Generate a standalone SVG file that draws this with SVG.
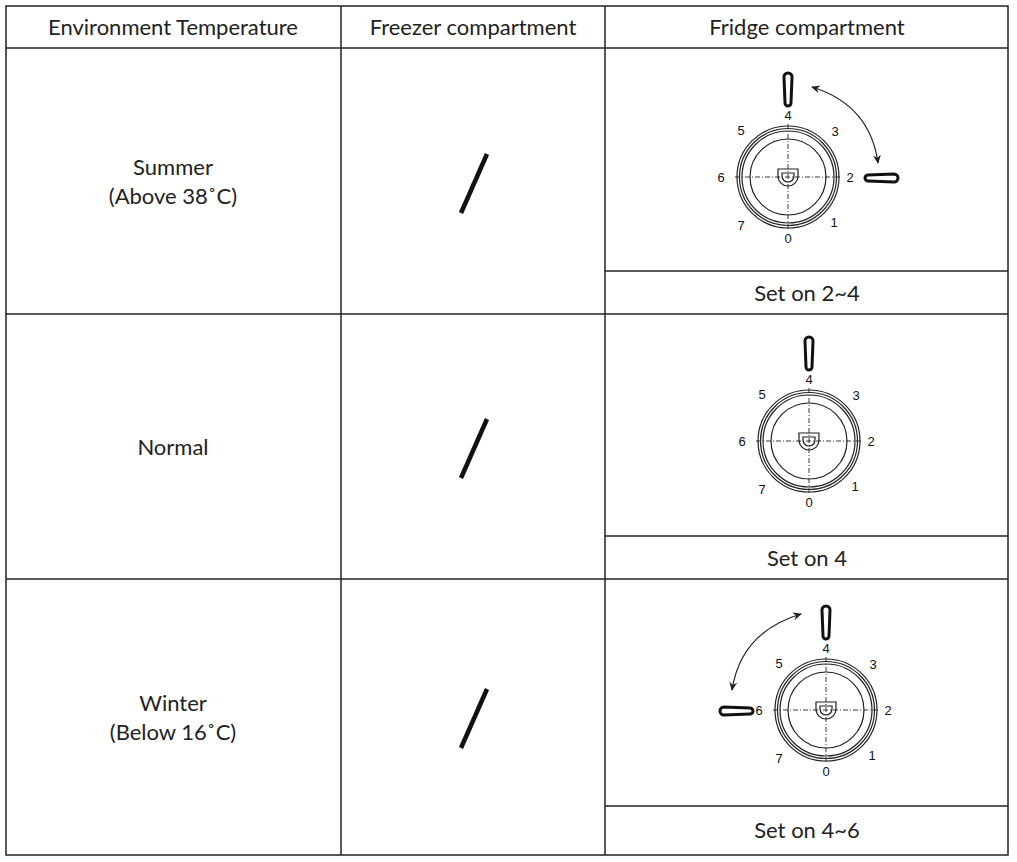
<svg xmlns="http://www.w3.org/2000/svg" width="1017" height="862" viewBox="0 0 1017 862">
<style>
.g{stroke:#222;stroke-width:1.5;fill:none}
.t{font-family:"Lato","Liberation Sans",sans-serif;font-size:22px;fill:#222;text-anchor:middle}
.n{font-family:"Liberation Sans",sans-serif;font-size:13px;fill:#111;text-anchor:middle}
.r{stroke:#222;stroke-width:1.2;fill:none}
.d{stroke:#222;stroke-width:0.9;stroke-dasharray:5 2 1 2;fill:none}
.k{fill:#fff;stroke:#111;stroke-width:3}
.s{stroke:#111;stroke-width:4.5}
.a{stroke:#222;stroke-width:1.2;fill:none}
</style>
<defs>
<marker id="ah" markerWidth="10" markerHeight="10" refX="8" refY="5" orient="auto-start-reverse" markerUnits="userSpaceOnUse"><path d="M0,1 L9,5 L0,9 L3,5Z" fill="#222"/></marker>
<g id="dial">
<circle class="r" r="51"/><circle class="r" r="48.5"/><circle class="r" r="46"/><circle class="r" r="38"/>
<line class="d" x1="-53" y1="0" x2="53" y2="0"/><line class="d" x1="0" y1="-53" x2="0" y2="53"/>
<path class="r" d="M-10,-8 L10,-8 L10,-1 A10,10 0 0 1 -10,-1 Z M-6,-4 L6,-4 L6,-1 A6,6 0 0 1 -6,-1 Z"/>
<text class="n" x="0" y="-57">4</text><text class="n" x="-47" y="-42">5</text><text class="n" x="47" y="-41">3</text>
<text class="n" x="-67" y="5">6</text><text class="n" x="62" y="5">2</text>
<text class="n" x="-47" y="53">7</text><text class="n" x="0" y="66">0</text><text class="n" x="46" y="50">1</text>
</g>
<path id="kv" class="k" d="M-4,-27 A4,4 0 0 1 4,-27 L3,-1 A3,3 0 0 1 -3,-1 Z"/>
</defs>
<g id="table">
<rect class="g" x="6" y="6" width="1002" height="849"/>
<line class="g" x1="6" y1="48" x2="1008" y2="48"/>
<line class="g" x1="6" y1="314" x2="1008" y2="314"/>
<line class="g" x1="6" y1="579" x2="1008" y2="579"/>
<line class="g" x1="341" y1="6" x2="341" y2="855"/>
<line class="g" x1="605" y1="6" x2="605" y2="855"/>
<line class="g" x1="605" y1="271" x2="1008" y2="271"/>
<line class="g" x1="605" y1="536" x2="1008" y2="536"/>
<line class="g" x1="605" y1="806" x2="1008" y2="806"/>
</g>
<g id="header">
<text class="t" x="173" y="35">Environment Temperature</text>
<text class="t" x="473" y="35">Freezer compartment</text>
<text class="t" x="807" y="35">Fridge compartment</text>
</g>
<g id="row1">
<text class="t" x="173" y="175">Summer</text><text class="t" x="173" y="204">(Above 38˚C)</text>
<line class="s" x1="461" y1="213" x2="487" y2="154"/>
<use href="#dial" x="788" y="177"/>
<use href="#kv" x="788" y="104"/>
<use href="#kv" transform="translate(867,178) rotate(90)"/>
<path class="a" d="M812,87 Q870,105 878,163" marker-start="url(#ah)" marker-end="url(#ah)"/>
<text class="t" x="807" y="301">Set on 2~4</text>
</g>
<g id="row2">
<text class="t" x="173" y="455">Normal</text>
<line class="s" x1="461" y1="478" x2="487" y2="419"/>
<use href="#dial" x="809" y="441"/>
<use href="#kv" x="809" y="368"/>
<text class="t" x="807" y="566">Set on 4</text>
</g>
<g id="row3">
<text class="t" x="173" y="711">Winter</text><text class="t" x="173" y="740">(Below 16˚C)</text>
<line class="s" x1="461" y1="748" x2="487" y2="689"/>
<use href="#dial" x="826" y="710"/>
<use href="#kv" x="826" y="637"/>
<use href="#kv" transform="translate(751,711) rotate(-90)"/>
<path class="a" d="M801,614 Q741,632 732,690" marker-start="url(#ah)" marker-end="url(#ah)"/>
<text class="t" x="807" y="838">Set on 4~6</text>
</g>
</svg>
